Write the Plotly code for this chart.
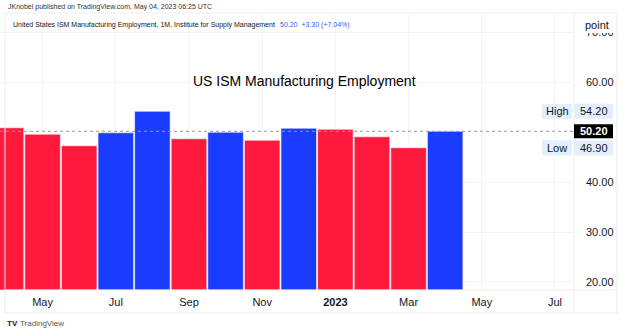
import plotly.graph_objects as go

# ---- data ----
months = ["Apr 2022", "May 2022", "Jun 2022", "Jul 2022", "Aug 2022", "Sep 2022", "Oct 2022",
          "Nov 2022", "Dec 2022", "Jan 2023", "Feb 2023", "Mar 2023", "Apr 2023"]
values = [50.9, 49.6, 47.3, 49.9, 54.2, 48.7, 50.0, 48.4, 50.8, 50.6, 49.1, 46.9, 50.2]
tick_labels = ["May", "Jul", "Sep", "Nov", "<b>2023</b>", "Mar", "May", "Jul"]
tick_index = [1, 3, 5, 7, 9, 11, 13, 15]
y_ticks = [20, 30, 40, 60, 70]
last_value = 50.20
high_value = 54.20
low_value = 46.90

RED = "#FF1A3D"
BLUE = "#1A3CFF"
prev = [56.3] + values[:-1]
colors = [BLUE if v >= p else RED for v, p in zip(values, prev)]
x_idx = list(range(len(values)))

W, H = 624, 335
L, R, T, B = 0, 50, 15, 45
PW, PH = W - L - R, H - T - B
PB = H - B
YMIN, YMAX = 18.39, 73.5

def px(xp):
    return (xp - L) / PW

def py(yp):
    return (PB - yp) / PH

fig = go.Figure()
fig.add_trace(go.Bar(
    x=x_idx, y=[v - YMIN for v in values], base=YMIN,
    marker=dict(color=colors, line=dict(color="rgba(255,255,255,0.55)", width=1)),
    width=0.97, hoverinfo="skip",
))

axis_col = "#131722"
fig.update_layout(
    width=W, height=H,
    margin=dict(l=L, r=R, t=T, b=B),
    paper_bgcolor="white", plot_bgcolor="white",
    showlegend=False,
    font=dict(family="Liberation Sans, Arial, sans-serif", color=axis_col, size=11),
    xaxis=dict(range=[-0.164, 15.52], tickmode="array", tickvals=tick_index, ticktext=tick_labels,
               showgrid=True, gridcolor="#f2f3f6", gridwidth=1, zeroline=False,
               showline=False, ticks="", ticklabelstandoff=4,
               tickfont=dict(size=11, color=axis_col)),
    yaxis=dict(range=[YMIN, YMAX], side="right", tickmode="array", tickvals=y_ticks,
               tickformat=".2f", showgrid=True, gridcolor="#f2f3f6", gridwidth=1,
               zeroline=False, showline=False, ticks="", ticklabelstandoff=11,
               tickfont=dict(size=11, color=axis_col)),
)

shapes = []
# pane border and axis separators
shapes.append(dict(type="rect", xref="paper", yref="paper", x0=px(5), x1=px(617), y0=py(313), y1=py(13),
                   line=dict(color="#eceef2", width=1), layer="above"))
shapes.append(dict(type="line", xref="paper", yref="paper", x0=px(574), x1=px(574), y0=py(313), y1=py(13),
                   line=dict(color="#f6eedf", width=1), layer="above"))
shapes.append(dict(type="line", xref="paper", yref="paper", x0=px(5), x1=px(617), y0=py(290), y1=py(290),
                   line=dict(color="#f6eedf", width=1), layer="above"))
# last value dotted line
shapes.append(dict(type="line", xref="paper", yref="y", x0=0, x1=1, y0=last_value, y1=last_value,
                   line=dict(color="#9598a1", width=1, dash="dot"), layer="above"))

def ybox(v, hpx):
    d = hpx / 2 / (PH / (YMAX - YMIN))
    return v - d, v + d

for v in (high_value, low_value):
    y0, y1 = ybox(v, 15)
    shapes.append(dict(type="rect", xref="paper", yref="y", x0=px(542), x1=px(572), y0=y0, y1=y1,
                       fillcolor="#e3effd", line=dict(width=0), layer="above"))
    shapes.append(dict(type="rect", xref="paper", yref="y", x0=px(574), x1=px(613), y0=y0, y1=y1,
                       fillcolor="#e3effd", line=dict(width=0), layer="above"))
y0, y1 = ybox(last_value, 14)
shapes.append(dict(type="rect", xref="paper", yref="y", x0=px(574), x1=px(613), y0=y0, y1=y1,
                   fillcolor="#000000", line=dict(width=0), layer="above"))
# cover for 70.00 behind "point"
shapes.append(dict(type="rect", xref="paper", yref="paper", x0=px(580), x1=px(614), y0=py(33), y1=py(16),
                   fillcolor="white", line=dict(width=0), layer="above"))
fig.update_layout(shapes=shapes)

ann = []
def txt(x, y, s, size=11, color=axis_col, xanchor="left"):
    ann.append(dict(xref="paper", yref="paper", x=px(x), y=py(y), text=s, showarrow=False,
                    xanchor=xanchor, yanchor="middle", font=dict(size=size, color=color)))

def ylab(x, v, s, color=axis_col):
    ann.append(dict(xref="paper", yref="y", x=px(x), y=v, text=s, showarrow=False,
                    xanchor="center", yanchor="middle", font=dict(size=11, color=color)))

txt(6, 7, "JKnobel published on TradingView.com, May 04, 2023 06:25 UTC", size=7, color="#333333")
txt(11, 25, "United States ISM Manufacturing Employment, 1M, Institute for Supply Management", size=7, color="#131722")
txt(278, 25, "50.20  +3.30 (+7.04%)", size=7, color="#2962ff")
txt(597, 25, "point", size=11, xanchor="center")
txt(304, 81, "US ISM Manufacturing Employment", size=14, xanchor="center", color="#000000")
ylab(557, high_value, "High")
ylab(594, high_value, "54.20")
ylab(557, low_value, "Low")
ylab(594, low_value, "46.90")
ylab(594, last_value, "<b>50.20</b>", color="white")
txt(5, 323, "<b>TV</b>", size=8, color="#131722")
txt(18, 323, "TradingView", size=8, color="#555555")
fig.update_layout(annotations=ann)

fig.write_html("out.html")
